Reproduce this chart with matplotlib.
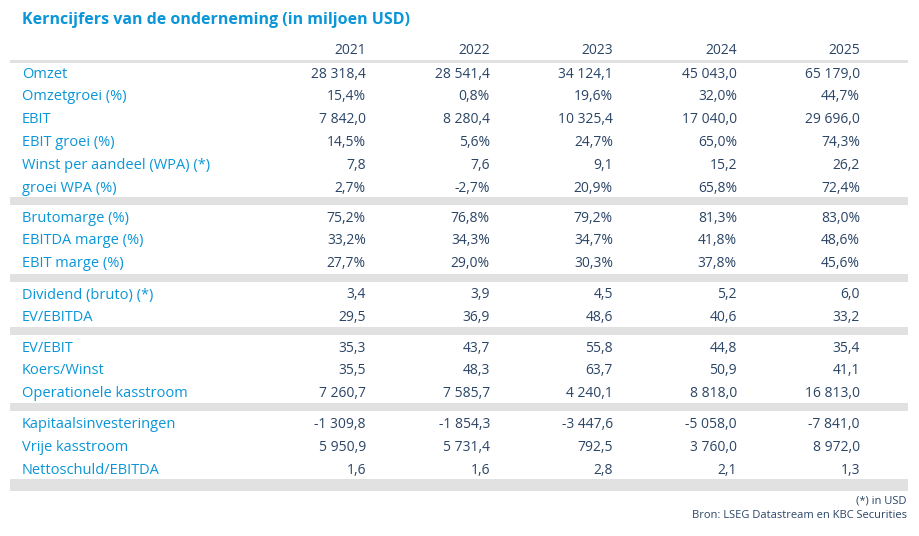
import matplotlib.pyplot as plt

plt.rcParams["font.family"] = ["Open Sans", "DejaVu Sans"]

BLUE = "#0a96d8"
NAVY = "#2b4566"
GRAY = "#e1e1e1"

title = "Kerncijfers van de onderneming (in miljoen USD)"
years = ["2021", "2022", "2023", "2024", "2025"]

groups = [
    [
        ("Omzet", ["28 318,4", "28 541,4", "34 124,1", "45 043,0", "65 179,0"]),
        ("Omzetgroei (%)", ["15,4%", "0,8%", "19,6%", "32,0%", "44,7%"]),
        ("EBIT", ["7 842,0", "8 280,4", "10 325,4", "17 040,0", "29 696,0"]),
        ("EBIT groei (%)", ["14,5%", "5,6%", "24,7%", "65,0%", "74,3%"]),
        ("Winst per aandeel (WPA) (*)", ["7,8", "7,6", "9,1", "15,2", "26,2"]),
        ("groei WPA (%)", ["2,7%", "-2,7%", "20,9%", "65,8%", "72,4%"]),
    ],
    [
        ("Brutomarge (%)", ["75,2%", "76,8%", "79,2%", "81,3%", "83,0%"]),
        ("EBITDA marge (%)", ["33,2%", "34,3%", "34,7%", "41,8%", "48,6%"]),
        ("EBIT marge (%)", ["27,7%", "29,0%", "30,3%", "37,8%", "45,6%"]),
    ],
    [
        ("Dividend (bruto) (*)", ["3,4", "3,9", "4,5", "5,2", "6,0"]),
        ("EV/EBITDA", ["29,5", "36,9", "48,6", "40,6", "33,2"]),
    ],
    [
        ("EV/EBIT", ["35,3", "43,7", "55,8", "44,8", "35,4"]),
        ("Koers/Winst", ["35,5", "48,3", "63,7", "50,9", "41,1"]),
        ("Operationele kasstroom", ["7 260,7", "7 585,7", "4 240,1", "8 818,0", "16 813,0"]),
    ],
    [
        ("Kapitaalsinvesteringen", ["-1 309,8", "-1 854,3", "-3 447,6", "-5 058,0", "-7 841,0"]),
        ("Vrije kasstroom", ["5 950,9", "5 731,4", "792,5", "3 760,0", "8 972,0"]),
        ("Nettoschuld/EBITDA", ["1,6", "1,6", "2,8", "2,1", "1,3"]),
    ],
]
group_tops = [74, 218, 295, 348, 425]
bars = [(197, 205), (274, 282), (327, 335), (403, 411), (479, 491)]
col_right = [366, 490, 613, 737, 860]
row_h = 22.8

fig = plt.figure(figsize=(9.2, 5.36), dpi=100, facecolor="white")
ax = fig.add_axes([0, 0, 1, 1])
ax.set_xlim(0, 920)
ax.set_ylim(536, 0)
ax.axis("off")

ax.text(22, 20, title, fontsize=11.5, fontweight="bold", color=BLUE, va="center", ha="left")

for x, yr in zip(col_right, years):
    ax.text(x, 50, yr, fontsize=10, color=NAVY, va="center", ha="right")
ax.fill_between([10, 908], 59.5, 62.5, color=GRAY, lw=0)

for (y0, y1) in bars:
    ax.fill_between([10, 908], y0, y1, color=GRAY, lw=0)

for top, rows in zip(group_tops, groups):
    for i, (label, vals) in enumerate(rows):
        y = top + i * row_h
        ax.text(22, y, label, fontsize=10.5, color=BLUE, va="center", ha="left")
        for x, v in zip(col_right, vals):
            ax.text(x, y, v, fontsize=10, color=NAVY, va="center", ha="right")

ax.text(907, 501, "(*) in USD", fontsize=8, color=NAVY, va="center", ha="right")
ax.text(907, 516, "Bron: LSEG Datastream en KBC Securities", fontsize=8, color=NAVY,
        va="center", ha="right")

fig.savefig("out.png", dpi=100, facecolor="white")
